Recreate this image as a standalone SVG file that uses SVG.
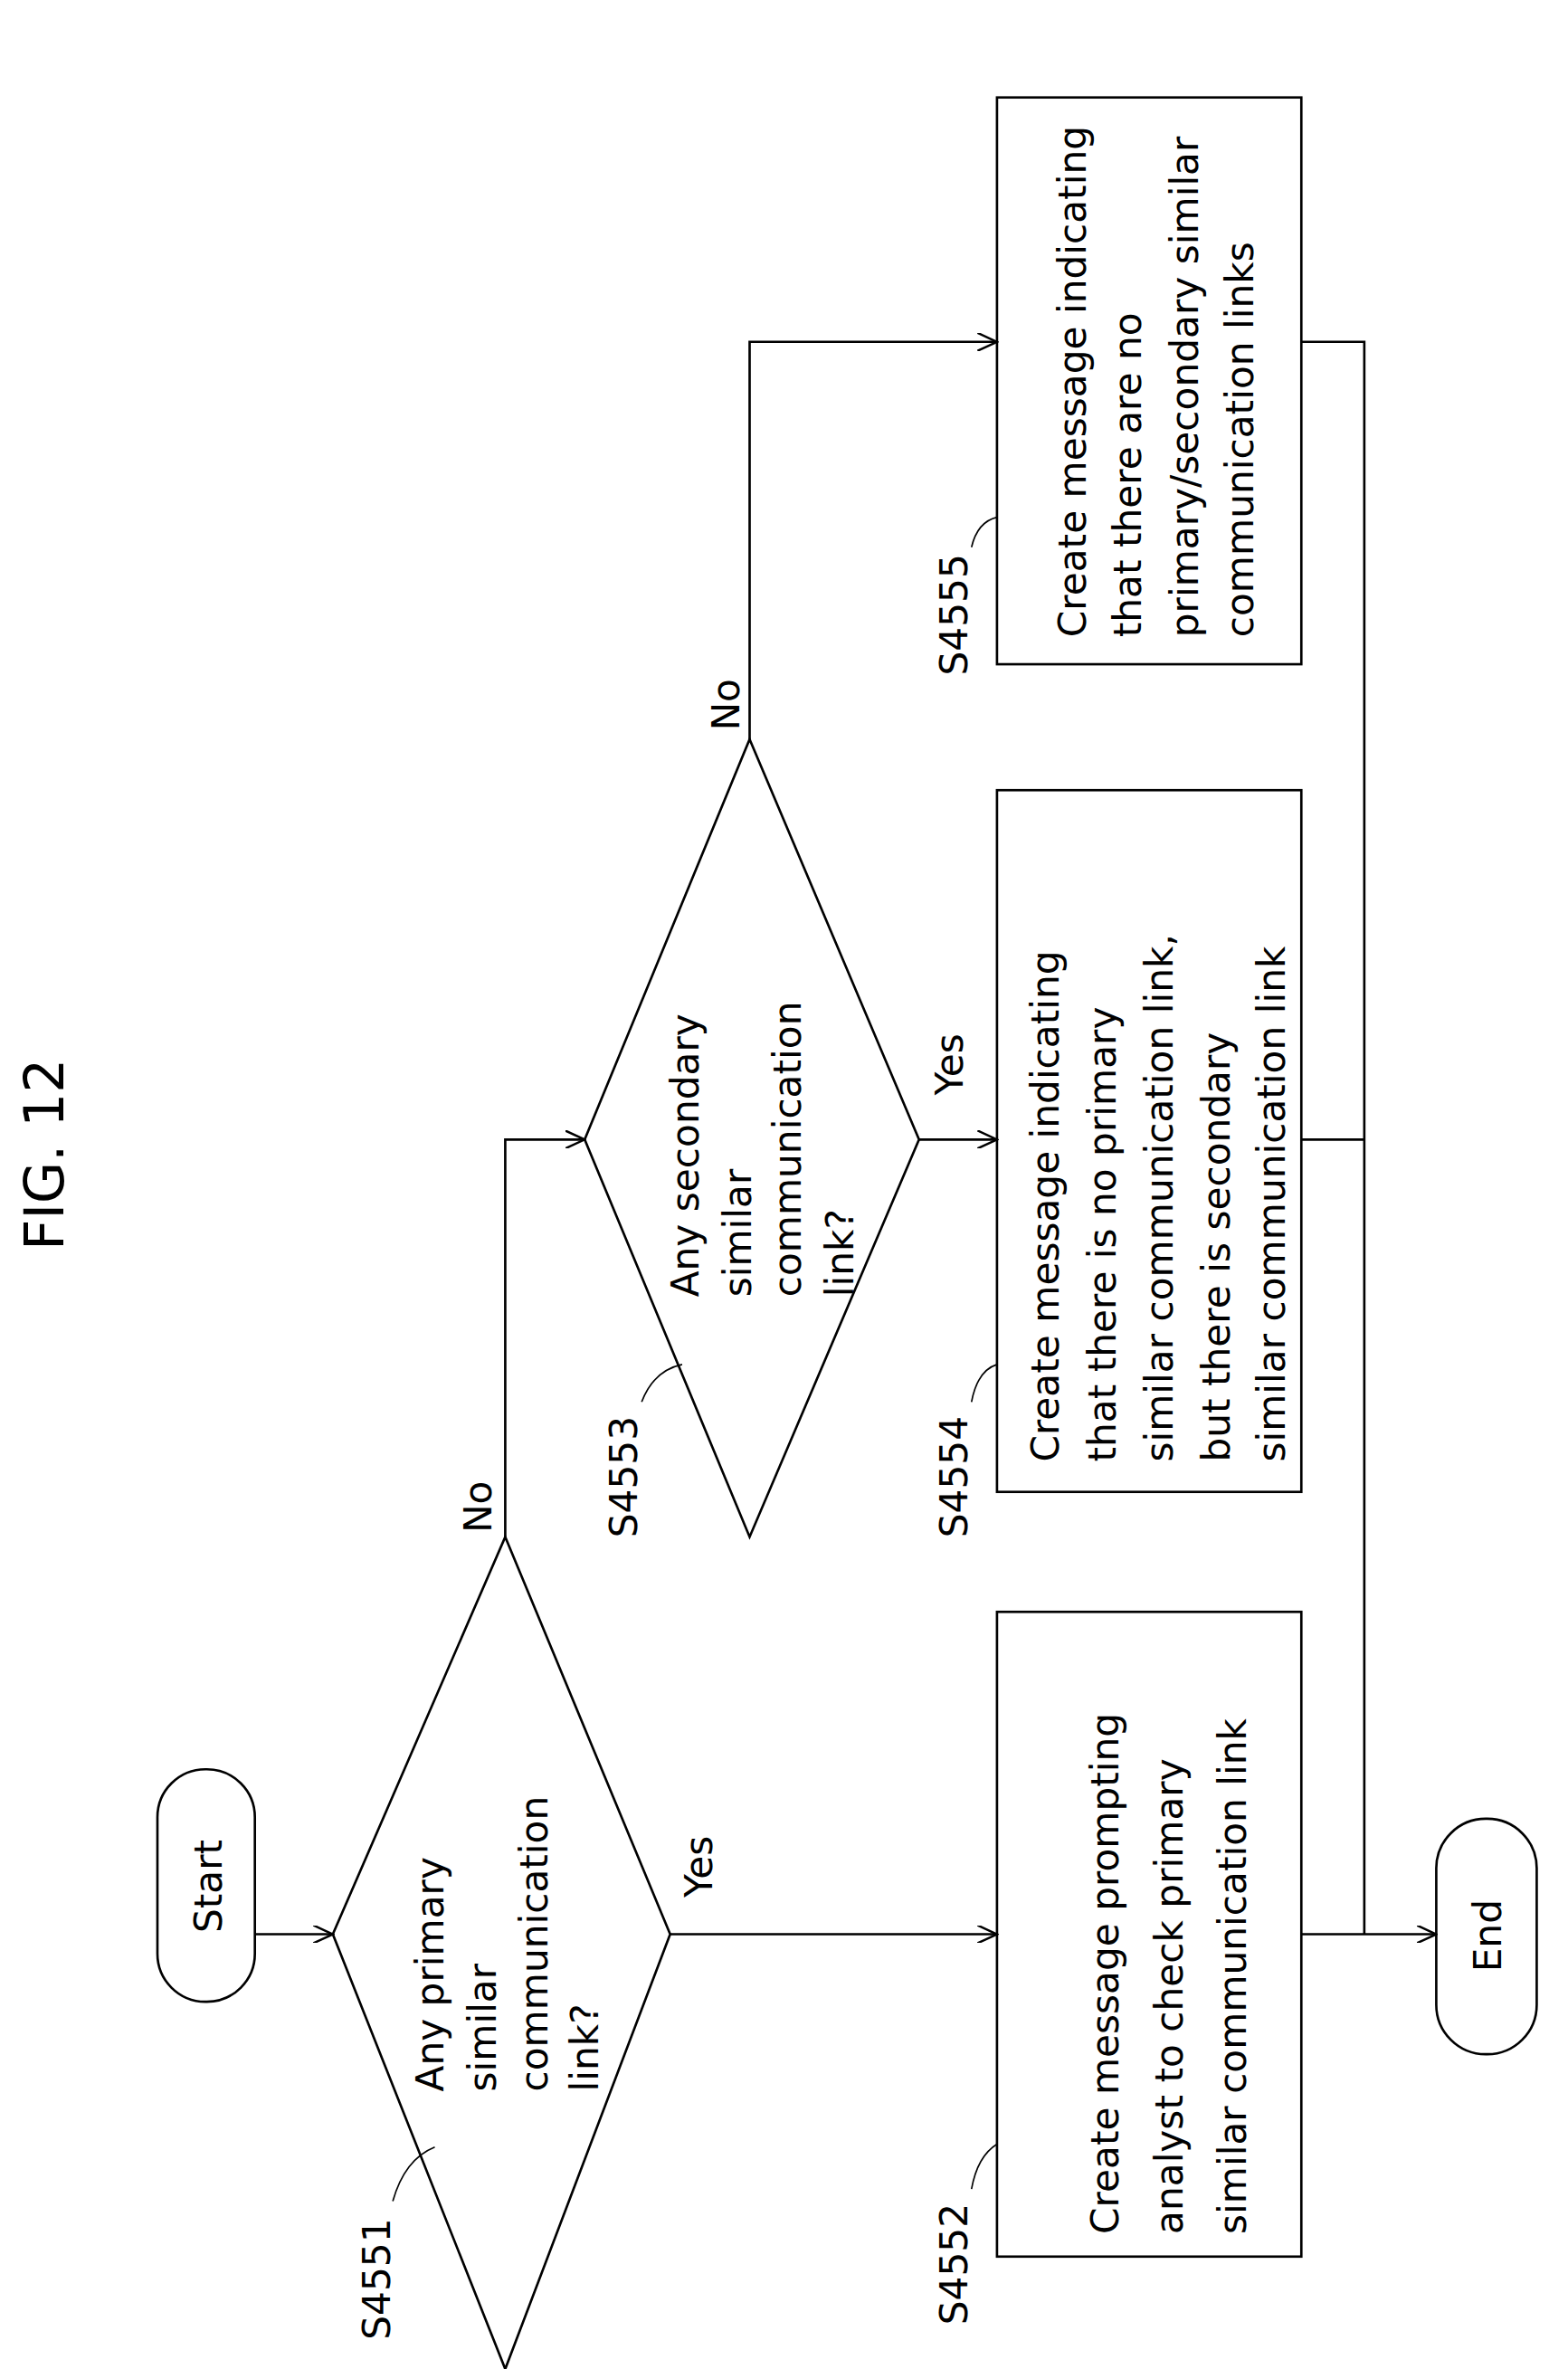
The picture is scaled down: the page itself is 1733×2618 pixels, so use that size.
<svg xmlns="http://www.w3.org/2000/svg" width="1733" height="2618" viewBox="0 0 1733 2618">
<style>
.s{fill:none;stroke:#000;stroke-width:1.6}
.t{font-family:"DejaVu Sans",sans-serif;font-size:25.5px;fill:#000}
.c{text-anchor:middle}
.l{fill:none;stroke:#000;stroke-width:1}
</style>
<defs>
<marker id="a" markerWidth="14" markerHeight="12" refX="13" refY="6" orient="auto" markerUnits="userSpaceOnUse">
<path d="M0,0 L13,6 L0,12" fill="none" stroke="#000" stroke-width="1.5"/>
</marker>
</defs>
<rect width="1733" height="2618" fill="#fff"/>
<g transform="scale(1.657)">
<text class="t c" style="font-size:36px" transform="translate(42,770) rotate(-90)">FIG. 12</text>
<g id="start"><rect class="s" x="105" y="1180" width="65" height="155" rx="32"/>
<text class="t c" transform="translate(148,1258) rotate(-90)">Start</text></g>
<g id="s4551"><polygon class="s" points="337,1025 447,1290 337,1580 222,1290"/>
<text class="t" transform="translate(0,1395) rotate(-90)"><tspan x="0" y="296">Any primary</tspan><tspan x="0" y="331">similar</tspan><tspan x="0" y="365">communication</tspan><tspan x="0" y="399">link?</tspan></text>
<text class="t c" transform="translate(260,1520) rotate(-90)">S4551</text>
<path class="l" d="M262,1468 Q270,1440 290,1432"/></g>
<g id="s4552"><rect class="s" x="665" y="1075" width="203" height="430"/>
<text class="t" transform="translate(0,1490) rotate(-90)"><tspan x="0" y="746">Create message prompting</tspan><tspan x="0" y="789">analyst to check primary</tspan><tspan x="0" y="831">similar communication link</tspan></text>
<text class="t c" transform="translate(645,1510) rotate(-90)">S4552</text>
<path class="l" d="M648,1460 Q652,1438 665,1430"/></g>
<g id="s4553"><polygon class="s" points="500,493 613,760 500,1025 390,760"/>
<text class="t" transform="translate(0,865) rotate(-90)"><tspan x="0" y="466">Any secondary</tspan><tspan x="0" y="501">similar</tspan><tspan x="0" y="534">communication</tspan><tspan x="0" y="569">link?</tspan></text>
<text class="t c" transform="translate(425,985) rotate(-90)">S4553</text>
<path class="l" d="M428,935 Q436,914 455,910"/></g>
<g id="s4554"><rect class="s" x="665" y="527" width="203" height="468"/>
<text class="t" transform="translate(0,975) rotate(-90)"><tspan x="0" y="706">Create message indicating</tspan><tspan x="0" y="744">that there is no primary</tspan><tspan x="0" y="782">similar communication link,</tspan><tspan x="0" y="820">but there is secondary</tspan><tspan x="0" y="857">similar communication link</tspan></text>
<text class="t c" transform="translate(645,985) rotate(-90)">S4554</text>
<path class="l" d="M648,935 Q652,914 665,910"/></g>
<g id="s4555"><rect class="s" x="665" y="65" width="203" height="378"/>
<text class="t" transform="translate(0,425) rotate(-90)"><tspan x="0" y="724">Create message indicating</tspan><tspan x="0" y="761">that there are no</tspan><tspan x="0" y="799">primary/secondary similar</tspan><tspan x="0" y="836">communication links</tspan></text>
<text class="t c" transform="translate(645,410) rotate(-90)">S4555</text>
<path class="l" d="M648,365 Q652,348 665,345"/></g>
<g id="end"><rect class="s" x="958" y="1213" width="67" height="157" rx="33"/>
<text class="t c" transform="translate(1001,1291) rotate(-90)">End</text></g>
<g id="connectors">
<path class="s" d="M170,1290 H222" marker-end="url(#a)"/>
<path class="s" d="M447,1290 H665" marker-end="url(#a)"/>
<path class="s" d="M337,1025 V760 H390" marker-end="url(#a)"/>
<path class="s" d="M613,760 H665" marker-end="url(#a)"/>
<path class="s" d="M500,493 V228 H665" marker-end="url(#a)"/>
<path class="s" d="M868,228 H910 V1290"/>
<path class="s" d="M868,760 H910"/>
<path class="s" d="M868,1290 H958" marker-end="url(#a)"/>
<text class="t c" transform="translate(475,1245) rotate(-90)">Yes</text>
<text class="t c" transform="translate(328,1005) rotate(-90)">No</text>
<text class="t c" transform="translate(642,710) rotate(-90)">Yes</text>
<text class="t c" transform="translate(493,470) rotate(-90)">No</text>
</g>
</g>
</svg>
